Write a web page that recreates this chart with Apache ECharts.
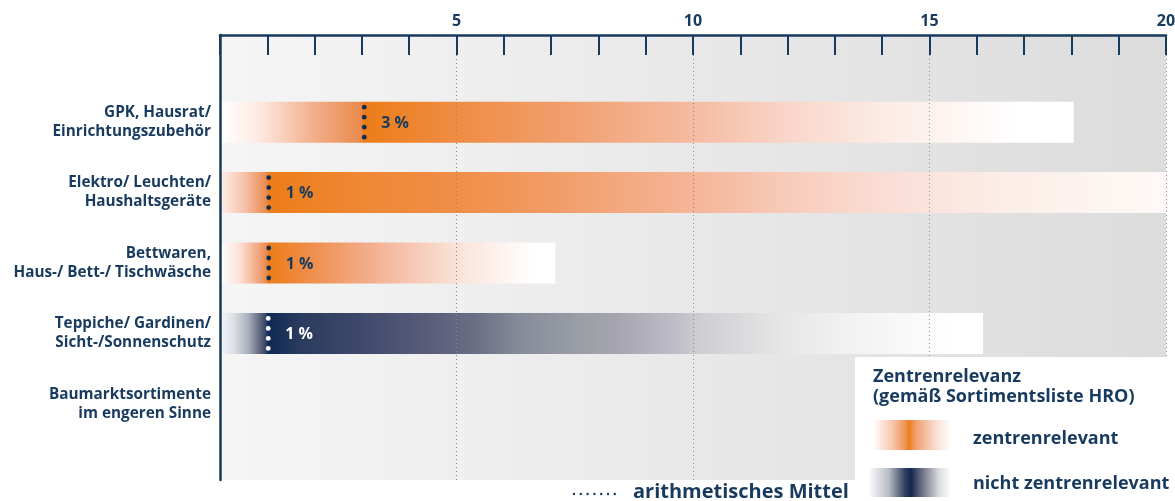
<!DOCTYPE html>
<html><head><meta charset="utf-8">
<script src="https://cdn.jsdelivr.net/npm/echarts@6/dist/echarts.min.js"></script>
<style>html,body{margin:0;padding:0;background:#fff}#c{width:1175px;height:501px}</style>
</head><body><div id="c"></div>
<script>
// ---- data ----
const categories = [
  'GPK, Hausrat/\nEinrichtungszubehör',
  'Elektro/ Leuchten/\nHaushaltsgeräte',
  'Bettwaren,\nHaus-/ Bett-/ Tischwäsche',
  'Teppiche/ Gardinen/\nSicht-/Sonnenschutz',
  'Baumarktsortimente\nim engeren Sinne'
];
const barExtent = [18.05, 20, 7.09, 16.13, null];      // Ende der Spanne
const meanValue = [3.05, 1.03, 1.03, 1.02, null];       // arithmetisches Mittel
const meanLabel = ['3 %', '1 %', '1 %', '1 %', null];
const relevance = ['zentrenrelevant', 'zentrenrelevant', 'zentrenrelevant', 'nicht zentrenrelevant', null];
const xMin = 0, xMax = 20, xStep = 1;
const xTickLabels = [5, 10, 15, 20];

// ---- styles ----
const NAVY = '#173a5e';
const FONT = '"Open Sans", Lato, sans-serif';
const W = 'bold';
const GRADS = [
  [[0,'#ffffff'],[0.8,'#fcebe3'],[2.0,'#f2ae8a'],[2.98,'#e98a4c'],[3.05,'#ec7d18'],[5,'#ef8c44'],[7,'#f09c68'],[10,'#f5bba2'],[12,'#f9d6c9'],[14,'#fcebe4'],[16.3,'#fefbfa'],[16.9,'#ffffff'],[18.05,'#ffffff']],
  [[0,'#fdf0ea'],[0.5,'#f6c4ad'],[0.98,'#ea8a4e'],[1.03,'#ec7d18'],[3,'#ef8734'],[5,'#f08e48'],[7,'#f19c66'],[10.2,'#f5b79b'],[12.3,'#f8cebf'],[14.4,'#fae0d8'],[16.5,'#fcede7'],[18.6,'#fdf5f0'],[20,'#fff8f8']],
  [[0,'#ffffff'],[0.4,'#fbe3d8'],[0.8,'#f2a883'],[0.99,'#eb8848'],[1.03,'#ec7d18'],[2,'#ef9050'],[3,'#f2a985'],[4,'#f6c6b2'],[5,'#fae2d8'],[6,'#fdf4f0'],[6.6,'#ffffff'],[7.09,'#ffffff']],
  [[0,'#f8f8fa'],[0.3,'#dcdee4'],[0.6,'#a9aebb'],[0.96,'#3a4663'],[1.02,'#0e2a55'],[1.7,'#2a3b5d'],[3.0,'#3f4a6b'],[4.4,'#5a5c7a'],[5.5,'#6c7186'],[6.3,'#868b99'],[7.6,'#9a9ea5'],[8.5,'#a8a6b0'],[9.7,'#c0bfc9'],[10.2,'#cfcfd3'],[11.9,'#e6e6e7'],[13.3,'#f2f2f2'],[14.8,'#fafafa'],[15.5,'#ffffff'],[16.13,'#ffffff']]
];
const LG = echarts.graphic.LinearGradient;

function barColor(i) {
  const ext = barExtent[i];
  const stops = GRADS[i].map(s => ({offset: Math.min(1, Math.max(0, s[0] / ext)), color: s[1]}));
  return new LG(0, 0, 1, 0, stops);
}

const barData = categories.map((c, i) => barExtent[i] == null ? '-' : {
  value: barExtent[i], itemStyle: {color: barColor(i)}
});
const meanData = [];
categories.forEach((c, i) => { if (meanValue[i] != null) meanData.push([meanValue[i], i]); });
const meanIdx = categories.map((c, i) => i).filter(i => meanValue[i] != null);

const option = {
  animation: false,
  backgroundColor: '#ffffff',
  grid: [
    {left: 220, right: 9, top: 35, bottom: 21, show: true, borderWidth: 0,
     backgroundColor: new LG(0, 0, 1, 0, [{offset: 0, color: '#f5f5f5'}, {offset: 1, color: '#dcdcdc'}]),
     containLabel: false, outerBoundsMode: 'none'},
    {left: 220, right: 9, top: 87, height: 352, containLabel: false, outerBoundsMode: 'none'}
  ],
  xAxis: [
    {type: 'value', gridIndex: 0, position: 'top', min: xMin, max: xMax, interval: xStep, z: 6,
     axisLine: {show: true, onZero: false, lineStyle: {color: NAVY, width: 2.5}},
     axisTick: {show: true, inside: true, length: 20, lineStyle: {color: NAVY, width: 2}},
     axisLabel: {show: true, margin: 6, color: NAVY, fontFamily: FONT, fontWeight: 'bold', fontSize: 16,
       formatter: v => xTickLabels.indexOf(v) >= 0 ? String(v) : ''},
     splitLine: {show: false}},
    {type: 'value', gridIndex: 0, position: 'top', min: xMin, max: xMax, interval: 5, z: 5,
     axisLine: {show: false, onZero: false}, axisTick: {show: false}, axisLabel: {show: false},
     splitLine: {show: true, lineStyle: {color: '#8a8a8a', width: 1, type: [1, 3]}}},
    {type: 'value', gridIndex: 1, min: xMin, max: xMax, show: false}
  ],
  yAxis: [
    {type: 'value', gridIndex: 0, min: 0, max: 1, z: 6,
     axisLine: {show: true, onZero: false, lineStyle: {color: NAVY, width: 2.5}},
     axisTick: {show: false}, axisLabel: {show: false}, splitLine: {show: false}},
    {type: 'category', gridIndex: 1, inverse: true, data: categories,
     axisLine: {show: false}, axisTick: {show: false}, splitLine: {show: false},
     axisLabel: {show: true, margin: 9, color: NAVY, fontFamily: FONT, fontWeight: W, fontSize: 15.3, lineHeight: 19, align: 'right'}}
  ],
  series: [
    {type: 'bar', xAxisIndex: 2, yAxisIndex: 1, data: barData, barWidth: 41, z: 2},
    {type: 'custom', xAxisIndex: 2, yAxisIndex: 1, data: meanData, z: 4,
     renderItem: (params, api) => {
       const i = meanIdx[params.dataIndex];
       const p = api.coord([api.value(0), api.value(1)]);
       const nz = relevance[i] === 'nicht zentrenrelevant';
       const dotColor = nz ? '#ffffff' : '#0f2d52';
       const textColor = nz ? '#ffffff' : NAVY;
       const children = [-15, -5, 5, 15].map(dy => ({type: 'circle', shape: {cx: p[0], cy: p[1] + dy, r: 2.4}, style: {fill: dotColor}}));
       children.push({type: 'text', style: {text: meanLabel[i], x: p[0] + 17, y: p[1] + 1, verticalAlign: 'middle', align: 'left',
         fill: textColor, font: 'bold 16px ' + FONT}});
       return {type: 'group', children};
     }}
  ],
  graphic: [
    {type: 'rect', z: 100, shape: {x: 855, y: 357, width: 320, height: 144}, style: {fill: '#ffffff'}},
    {type: 'text', z: 101, style: {x: 873, y: 377, text: 'Zentrenrelevanz', verticalAlign: 'middle', fill: NAVY, font: W + ' 18px ' + FONT}},
    {type: 'text', z: 101, style: {x: 873, y: 397, text: '(gemäß Sortimentsliste HRO)', verticalAlign: 'middle', fill: NAVY, font: W + ' 18px ' + FONT}},
    {type: 'rect', z: 101, shape: {x: 873, y: 420, width: 78, height: 30},
     style: {fill: new LG(0, 0, 1, 0, [{offset: 0, color: '#ffffff'}, {offset: 0.25, color: '#f8c6ae'}, {offset: 0.42, color: '#ef9050'}, {offset: 0.46, color: '#ec7d18'}, {offset: 0.55, color: '#f0a070'}, {offset: 0.8, color: '#f9dccf'}, {offset: 1, color: '#ffffff'}])}},
    {type: 'text', z: 101, style: {x: 973, y: 439, text: 'zentrenrelevant', verticalAlign: 'middle', fill: NAVY, font: W + ' 18px ' + FONT}},
    {type: 'rect', z: 101, shape: {x: 868, y: 468, width: 83, height: 29},
     style: {fill: new LG(0, 0, 1, 0, [{offset: 0, color: '#ffffff'}, {offset: 0.25, color: '#b8bcc6'}, {offset: 0.45, color: '#2e3d5c'}, {offset: 0.52, color: '#13294f'}, {offset: 0.62, color: '#5a6078'}, {offset: 0.85, color: '#d8d9de'}, {offset: 1, color: '#ffffff'}])}},
    {type: 'text', z: 101, style: {x: 973, y: 484, text: 'nicht zentrenrelevant', verticalAlign: 'middle', fill: NAVY, font: W + ' 18px ' + FONT}},
    {type: 'group', z: 101, children: [0, 1, 2, 3, 4, 5, 6].map(k => ({type: 'circle', shape: {cx: 574 + k * 6.8, cy: 494, r: 1.2}, style: {fill: NAVY}}))},
    {type: 'text', z: 101, style: {x: 633, y: 492, text: 'arithmetisches Mittel', verticalAlign: 'middle', fill: NAVY, font: W + ' 20px ' + FONT}}
  ]
};
const chart = echarts.init(document.getElementById('c'), null, {renderer: 'canvas'});
chart.setOption(option);
</script>
</body></html>
